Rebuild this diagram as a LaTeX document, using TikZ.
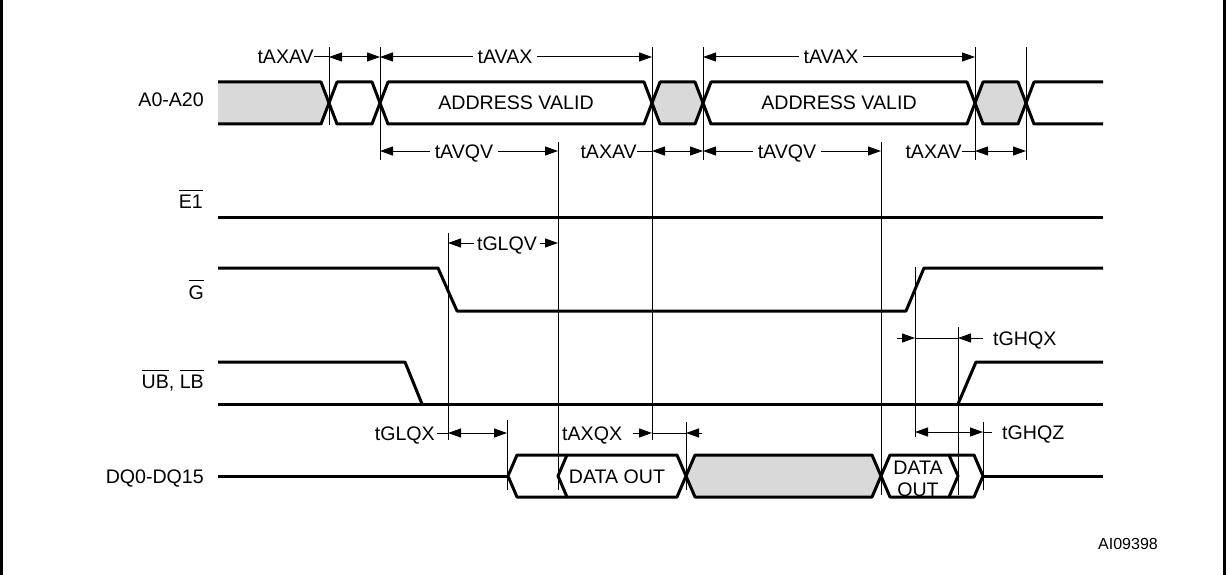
\documentclass[tikz,border=0pt]{standalone}
\usepackage{fontspec}
\setmainfont{Liberation Sans}
\usetikzlibrary{arrows.meta}
\newcommand\ovbar[1]{\leavevmode\vbox{\hrule height 1pt\kern 4pt\hbox{#1}}}
\definecolor{grayfill}{RGB}{217,217,217}
\begin{document}
\begin{tikzpicture}[x=1pt,y=-1pt,
  sig/.style={line width=3pt,line join=round},
  dim/.style={line width=1pt},
  tri/.tip={Triangle[length=13pt,width=9pt]},
  lbl/.style={font=\fontsize{19.6}{22}\selectfont,inner sep=0pt,text height=14pt,text depth=0pt},
  gap/.style={lbl,fill=white,inner xsep=5pt},
  gf/.style={fill=grayfill}]
\useasboundingbox (0,0) rectangle (1228,575);
% frame
\draw[line width=2.5pt] (1.3,0) -- (1.3,575);
\draw[line width=2.5pt] (1224.5,0) -- (1224.5,575);

% ---------------- signal labels
\node[lbl,anchor=east] (lA) at (204,100) {A0-A20};
\node[lbl,anchor=east] (lE) at (203,201) {\ovbar{E1}};
\node[lbl,anchor=east] (lG) at (204,292) {\ovbar{G}};
\node[lbl,anchor=east] (lU) at (204,381) {\ovbar{UB}, \ovbar{LB}};
\node[lbl,anchor=east] (lD) at (204,476) {DQ0-DQ15};
\node[inner sep=0pt,font=\fontsize{16}{18}\selectfont,anchor=west] (id) at (1098,544) {AI09398};

% ---------------- vertical reference lines
\draw[dim] (329,47) -- (329,125);
\draw[dim] (380,47) -- (380,160);
\draw[dim] (652,47) -- (652,440);
\draw[dim] (703,47) -- (703,160);
\draw[dim] (975,47) -- (975,160);
\draw[dim] (1026,47) -- (1026,160);
\draw[dim] (558,142) -- (558,490);
\draw[dim] (881,142) -- (881,495);
\draw[dim] (448,233) -- (448,440);
\draw[dim] (507,420) -- (507,490);
\draw[dim] (686,422) -- (686,490);
\draw[dim] (915,267) -- (915,437);
\draw[dim] (958,327) -- (958,495);
\draw[dim] (983,422) -- (983,490);

% ---------------- address bus
\fill[gf] (218,82) -- (321,82) -- (329,103) -- (321,124) -- (218,124) -- cycle;
\draw[sig] (218,82) -- (321,82) -- (329,103) -- (321,124) -- (218,124);
\draw[sig] (329,103) -- (337,82) -- (372,82) -- (380,103) -- (372,124) -- (337,124) -- cycle;
\draw[sig] (380,103) -- (388,82) -- (644,82) -- (652,103) -- (644,124) -- (388,124) -- cycle;
\draw[sig,gf] (652,103) -- (660,82) -- (695,82) -- (703,103) -- (695,124) -- (660,124) -- cycle;
\draw[sig] (703,103) -- (711,82) -- (967,82) -- (975,103) -- (967,124) -- (711,124) -- cycle;
\draw[sig,gf] (975,103) -- (983,82) -- (1018,82) -- (1026,103) -- (1018,124) -- (983,124) -- cycle;
\draw[sig] (1103,82) -- (1034,82) -- (1026,103) -- (1034,124) -- (1103,124);
\node[lbl] (av1) at (516,103) {ADDRESS VALID};
\node[lbl] (av2) at (839,103) {ADDRESS VALID};

% ---------------- E1
\draw[sig] (218,217) -- (1103,217);
% ---------------- G
\draw[sig] (218,268) -- (438,268) -- (457,311) -- (906,311) -- (924,268) -- (1103,268);
% ---------------- UB, LB
\draw[sig] (218,362) -- (405,362) -- (422,404);
\draw[sig] (218,404) -- (1103,404);
\draw[sig] (958,404) -- (976,362) -- (1103,362);

% ---------------- DQ bus
\draw[sig] (218,476) -- (508,476);
\draw[sig] (567,455) -- (517,455) -- (508,476) -- (517,497) -- (567,497);
\draw[sig] (567,455) -- (558,476) -- (567,497) -- (677,497) -- (686,476) -- (677,455) -- cycle;
\draw[sig,gf] (686,476) -- (695,455) -- (872,455) -- (881,476) -- (872,497) -- (695,497) -- cycle;
\draw[sig] (881,476) -- (890,455) -- (949,455) -- (958,476) -- (949,497) -- (890,497) -- cycle;
\draw[sig] (949,455) -- (974,455) -- (983,476) -- (974,497) -- (949,497);
\draw[sig] (983,476) -- (1103,476);
\node[lbl] (do1) at (617,476) {DATA OUT};
\node[lbl] (do2a) at (918,467) {DATA};
\node[lbl] (do2b) at (918,489) {OUT};

% ---------------- timing row 1
\node[lbl,anchor=east] (t1) at (314,57) {tAXAV};
\draw[dim] (t1.east) -- (329,57);
\draw[dim,tri-tri] (329,57) -- (380,57);
\draw[dim,tri-tri] (380,57) -- (652,57);
\node[gap] (t2) at (505,57) {tAVAX};
\draw[dim,tri-tri] (703,57) -- (975,57);
\node[gap] (t3) at (831,57) {tAVAX};

% ---------------- timing row 2
\draw[dim,tri-tri] (380,151) -- (558,151);
\node[gap] (t4) at (464,151) {tAVQV};
\node[lbl,anchor=east] (t5) at (637,151) {tAXAV};
\draw[dim] (t5.east) -- (652,151);
\draw[dim,tri-tri] (652,151) -- (703,151);
\draw[dim,tri-tri] (703,151) -- (881,151);
\node[gap] (t6) at (787,151) {tAVQV};
\node[lbl,anchor=east] (t7) at (962,151) {tAXAV};
\draw[dim] (t7.east) -- (975,151);
\draw[dim,tri-tri] (975,151) -- (1026,151);

% ---------------- tGLQV
\draw[dim,tri-tri] (448,243) -- (558,243);
\node[gap,inner xsep=3pt] (t8) at (507,243) {tGLQV};

% ---------------- tGHQX
\draw[dim,-tri] (897,338) -- (915,338);
\draw[dim] (915,338) -- (958,338);
\draw[dim,tri-] (958,338) -- (983,338);
\node[lbl,anchor=west] (t9) at (993,338) {tGHQX};

% ---------------- tGLQX / tAXQX / tGHQZ
\node[lbl,anchor=east] (t10) at (435,433) {tGLQX};
\draw[dim] (437,433) -- (448,433);
\draw[dim,tri-tri] (448,433) -- (507,433);
\node[lbl,anchor=west] (t11) at (562,433) {tAXQX};
\draw[dim,-tri] (633,433) -- (652,433);
\draw[dim] (652,433) -- (686,433);
\draw[dim,tri-] (686,433) -- (702,433);
\draw[dim,tri-tri] (915,432) -- (983,432);
\draw[dim] (983,432) -- (992,432);
\node[lbl,anchor=west] (t12) at (1002,432) {tGHQZ};
\end{tikzpicture}
\end{document}
